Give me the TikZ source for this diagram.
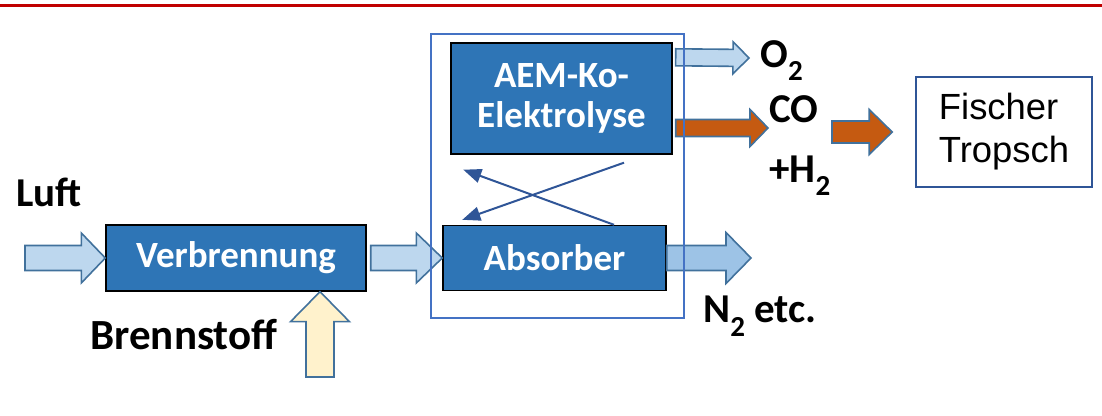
\documentclass[tikz,border=0pt]{standalone}
\usepackage{fontspec}
\setmainfont{Carlito}
\newfontfamily\arialfont{Liberation Sans}
\usepackage{xcolor}
\usetikzlibrary{arrows.meta, calc}

\definecolor{boxblue}{HTML}{2E75B6}
\definecolor{airblue}{HTML}{BDD7EE}
\definecolor{gasblue}{HTML}{9DC3E6}
\definecolor{edgeblue}{HTML}{41719C}
\definecolor{frameblue}{HTML}{4472C4}
\definecolor{darkblue}{HTML}{2F5597}
\definecolor{syngas}{HTML}{C55A11}
\definecolor{fuel}{HTML}{FFF2CC}
\definecolor{headred}{HTML}{C00000}

% block arrow: style, tail, tip, half body, half head, head length
\newcommand{\flowarrow}[6]{%
  \coordinate (fa-neck) at ($(#3)!#6!(#2)$);
  \draw[#1] ($(#2)!#4!90:(#3)$) -- ($(fa-neck)!#4!-90:(#2)$)
    -- ($(fa-neck)!#5!-90:(#2)$) -- (#3)
    -- ($(fa-neck)!#5!90:(#2)$) -- ($(fa-neck)!#4!90:(#2)$)
    -- ($(#2)!#4!-90:(#3)$) -- cycle;
}
\newcommand{\lowidx}[1]{\raisebox{-6.5pt}{\fontsize{14.5pt}{14.5pt}\selectfont #1}}

\begin{document}
\begin{tikzpicture}[
    x=0.5pt, y=-0.5pt,
    procbox/.style={
        rectangle,
        draw=black,
        line width=0.7pt,
        fill=boxblue,
        text=white,
        align=center,
        font=\fontsize{18.5pt}{20pt}\selectfont\bfseries
    },
    label/.style={
        anchor=base west,
        inner sep=0pt,
        font=\fontsize{20.5pt}{22pt}\selectfont\bfseries
    },
    airflow/.style={draw=edgeblue, line width=0.8pt, fill=airblue},
    gasflow/.style={draw=edgeblue, line width=0.8pt, fill=gasblue},
    fuelflow/.style={draw=edgeblue, line width=0.8pt, fill=fuel},
    synflow/.style={draw=edgeblue, line width=0.8pt, fill=syngas},
    loop/.style={draw=darkblue, line width=1pt,
        -{Triangle[length=9pt, width=7pt]}}
]

\useasboundingbox (0,0) rectangle (1102,416);
\draw[headred, line width=1.4pt] (0,5.3) -- (1102,5.3);

\node[procbox, minimum width=130pt, minimum height=33pt] (verbrennung) at (236,258) {Verbrennung};
\node[procbox, minimum width=111.5pt, minimum height=32.5pt] (absorber) at (554.5,258) {Absorber};
\node[procbox, minimum width=110.5pt, minimum height=55.5pt] (aem) at (561.5,98.5) {AEM-Ko-\\Elektrolyse};
\node[rectangle, draw=darkblue, line width=0.8pt, minimum width=88pt, minimum height=55pt,
    align=left, font=\arialfont\fontsize{18.2pt}{21.5pt}\selectfont] (ft) at (1004,132) {Fischer\\Tropsch};

\node[label] (luft) at (16,207) {Luft};
\node[label, font=\fontsize{21.5pt}{24pt}\selectfont\bfseries] (brennstoff) at (90,350) {Brennstoff};
\node[label] (o2) at (760,68) {O\lowidx{2}};
\node[label] (co) at (769,123) {CO};
\node[label] (h2) at (769,183) {+H\lowidx{2}};
\node[label] (n2) at (703,323) {N\lowidx{2} etc.};

\coordinate (air-in) at (25,258);
\coordinate (fuel-src) at (320,377);
\coordinate (fuel-in) at (verbrennung.south -| fuel-src);
\coordinate (o2-out) at ($(aem.north east)+(3,15)$);
\coordinate (o2-tip) at (749,58);
\coordinate (co-out) at ($(aem.east)+(3,29.5)$);
\coordinate (co-tip) at (768,128);
\coordinate (syn-out) at (832,132);
\coordinate (ft-in) at ($(ft.west)+(-23,0)$);
\coordinate (n2-tip) at (751,258);

\flowarrow{airflow}{air-in}{verbrennung.west}{6.25pt}{12.5pt}{12pt}
\flowarrow{airflow}{$(verbrennung.east)+(4,0)$}{absorber.west}{6.25pt}{12.5pt}{13pt}
\flowarrow{fuelflow}{fuel-src}{fuel-in}{7pt}{14.75pt}{15pt}
\flowarrow{airflow}{o2-out}{o2-tip}{4.25pt}{8pt}{8pt}
\flowarrow{synflow}{co-out}{co-tip}{4.25pt}{9.25pt}{9pt}
\flowarrow{synflow}{syn-out}{ft-in}{5.5pt}{11.25pt}{11.5pt}
\flowarrow{gasflow}{absorber.east}{n2-tip}{6.25pt}{12.75pt}{12.5pt}

\draw[loop] ($(aem.south)+(62.5,8)$) -- ($(absorber.north west)+(20,-5)$);
\draw[loop] ($(absorber.north)+(59.5,0)$) -- ($(aem.south west)+(13,15)$);

\draw[frameblue, line width=1pt] (431,34) rectangle (684,318);

\end{tikzpicture}
\end{document}
